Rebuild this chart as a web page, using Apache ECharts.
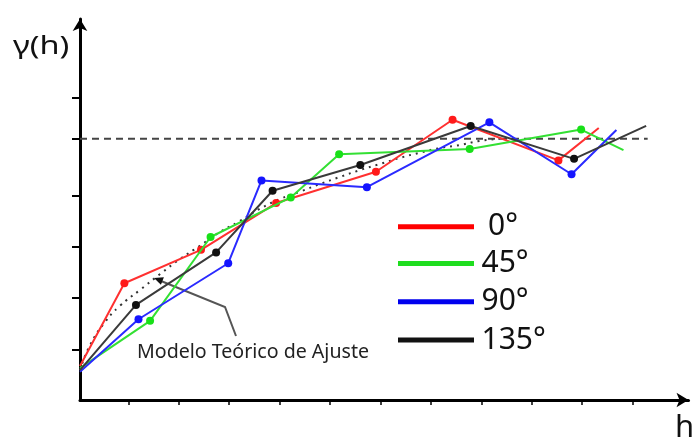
<!DOCTYPE html>
<html><head><meta charset="utf-8">
<script src="https://cdn.jsdelivr.net/npm/echarts@6/dist/echarts.min.js"></script>
<style>html,body{margin:0;padding:0;background:#fff}#c{width:692px;height:440px}</style>
</head><body><div id="c"></div>
<script>
// ---- data ----
const seriesNames = ['0°', '45°', '90°', '135°'];
const x0   = [0.04, 0.92, 2.44, 3.93, 5.91, 7.43, 9.53, 10.33];
const y0   = [0.66, 2.27, 2.92, 3.83, 4.44, 5.45, 4.66, 5.29];
const x45  = [0.04, 1.43, 2.63, 4.22, 5.18, 7.77, 9.98, 10.82];
const y45  = [0.62, 1.54, 3.17, 3.94, 4.78, 4.88, 5.26, 4.86];
const x90  = [0.04, 1.20, 2.98, 3.64, 5.73, 8.16, 9.79, 10.68];
const y90  = [0.55, 1.57, 2.66, 4.27, 4.14, 5.40, 4.39, 5.25];
const x135 = [0.04, 1.15, 2.74, 3.86, 5.60, 7.79, 9.84, 11.27];
const y135 = [0.58, 1.85, 2.87, 4.07, 4.57, 5.33, 4.69, 5.33];
const modelX = [0.04, 0.24, 0.54, 0.83, 1.23, 1.63, 2.02, 2.42, 2.82, 3.21, 3.61, 4.01, 4.40, 4.80, 5.20, 5.59, 5.99, 6.39, 6.78, 7.18, 7.58, 7.97, 8.37];
const modelY = [0.58, 1.07, 1.52, 1.83, 2.14, 2.45, 2.74, 3.00, 3.27, 3.48, 3.72, 3.91, 4.05, 4.20, 4.34, 4.47, 4.59, 4.71, 4.81, 4.90, 4.96, 5.04, 5.08];
const sill = 5.08;
const sillEndX = 11.3;
const xTicks = [1, 2, 3, 4, 5, 6, 7, 8, 9, 10, 11];
const yTicks = [0.97, 1.98, 2.98, 3.97, 5.08, 5.88];
const modelLabel = 'Modelo Teórico de Ajuste';
const yName = 'γ(h)';
const xName = 'h';

// ---- styles ----
const lineColors = ['#ff3030', '#33e033', '#2a2aff', '#3a3a3a'];
const markColors = ['#ff1a1a', '#18e018', '#1414ff', '#111111'];
const legendColors = ['#ff0000', '#1fdd1f', '#0000ee', '#111111'];
const xs = [x0, x45, x90, x135], ys = [y0, y45, y90, y135];

function pts(xa, ya) {
  return xa.map((x, i) => ({
    value: [x, ya[i]],
    symbol: (i === 0 || i === xa.length - 1) ? 'none' : 'circle'
  }));
}

const series = seriesNames.map((name, k) => ({
  name, type: 'line', data: pts(xs[k], ys[k]),
  symbolSize: 8, showAllSymbol: true,
  lineStyle: { color: lineColors[k], width: 2 },
  itemStyle: { color: markColors[k] },
  z: 3 + k, silent: true, animation: false
}));
series.unshift({
  name: 'sill', type: 'line', data: [[0.04, sill], [sillEndX, sill]], symbol: 'none',
  lineStyle: { color: '#444', width: 2, type: [7, 5] }, z: 2, animation: false
});
series.unshift({
  name: 'model', type: 'line', data: modelX.map((x, i) => [x, modelY[i]]), symbol: 'none',
  smooth: true,
  lineStyle: { color: '#333', width: 2, type: [2, 5] }, z: 2, animation: false
});

const legendRowsY = [226.7, 263.5, 301.7, 340];
const legendTextX = [488, 481.5, 481.5, 481.5];
const graphics = [];
seriesNames.forEach((n, k) => {
  graphics.push({ type: 'line', shape: { x1: 398, y1: legendRowsY[k], x2: 474, y2: legendRowsY[k] },
    style: { stroke: legendColors[k], lineWidth: 5 } });
  graphics.push({ type: 'text', x: legendTextX[k], y: legendRowsY[k],
    style: { text: n, font: '30px "Noto Sans"', fill: '#111', textVerticalAlign: 'middle' } });
});
graphics.push({ type: 'polyline', shape: { points: [[236, 336], [225, 307], [161, 281]] },
  style: { stroke: '#555', lineWidth: 2, fill: null } });
graphics.push({ type: 'polygon', shape: { points: [[154, 278], [163.9, 277.3], [160.9, 284.7]] },
  style: { fill: '#111' } });
graphics.push({ type: 'text', x: 137, y: 352,
  style: { text: modelLabel, font: '19.6px "Noto Sans"', fill: '#222', textVerticalAlign: 'middle' } });
graphics.push({ type: 'text', x: 13, y: 47, scaleX: 1.3,
  style: { text: yName, font: '25px "Noto Sans"', fill: '#111', textVerticalAlign: 'middle' } });
graphics.push({ type: 'text', x: 675, y: 428,
  style: { text: xName, font: '31px "Noto Sans"', fill: '#111', textVerticalAlign: 'middle' } });

const chart = echarts.init(document.getElementById('c'), null, { renderer: 'canvas' });
chart.setOption({
  animation: false,
  backgroundColor: '#fff',
  grid: { left: 80, top: 19, right: 3.5, bottom: 40, containLabel: false },
  xAxis: {
    type: 'value', min: 0.04, max: 12.11,
    axisLine: { show: true, onZero: false, symbol: ['none', 'arrow'], symbolSize: [11, 12],
      lineStyle: { color: '#000', width: 3 } },
    axisTick: { show: true, inside: false, length: 5, customValues: xTicks, lineStyle: { color: '#000', width: 1.5 } },
    axisLabel: { show: false },
    splitLine: { show: false }
  },
  yAxis: {
    type: 'value', min: 0, max: 7.41,
    axisLine: { show: true, onZero: false, symbol: ['none', 'arrow'], symbolSize: [11, 12],
      lineStyle: { color: '#000', width: 3 } },
    axisTick: { show: true, inside: false, length: 8, customValues: yTicks, lineStyle: { color: '#000', width: 2 } },
    axisLabel: { show: false },
    splitLine: { show: false }
  },
  series,
  graphic: graphics
});
</script></body></html>
